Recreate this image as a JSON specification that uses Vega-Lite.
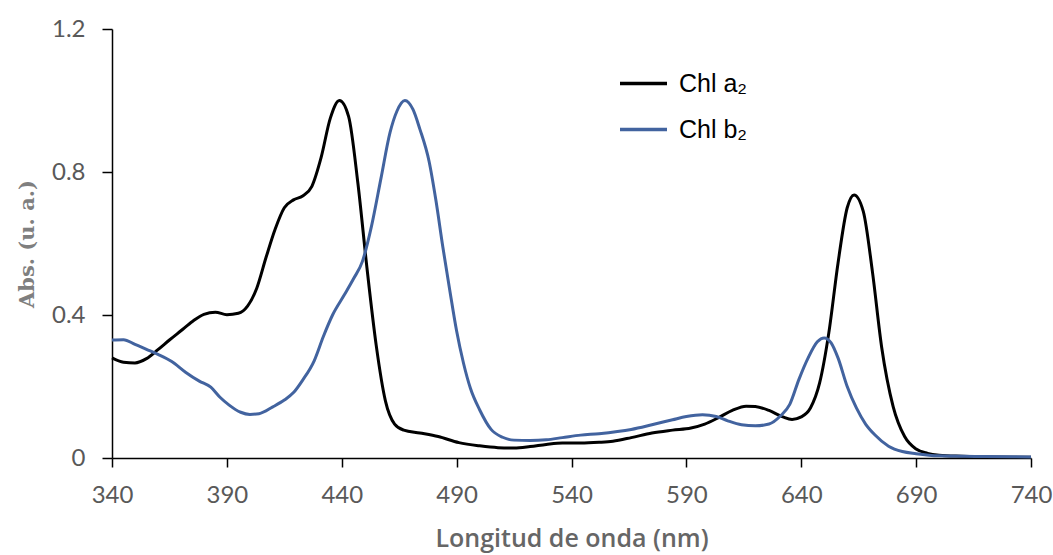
{
  "$schema": "https://vega.github.io/schema/vega-lite/v6.json",
  "autosize": "none",
  "width": 919,
  "height": 429,
  "padding": {"left": 112, "top": 29, "right": 22, "bottom": 97},
  "background": "white",
  "config": {"view": {"stroke": null}},
  "data": {"values": [
    {"wl": 340, "abs": 0.28, "serie": "Chl a₂"},
    {"wl": 345, "abs": 0.268, "serie": "Chl a₂"},
    {"wl": 350, "abs": 0.266, "serie": "Chl a₂"},
    {"wl": 355, "abs": 0.278, "serie": "Chl a₂"},
    {"wl": 360, "abs": 0.303, "serie": "Chl a₂"},
    {"wl": 365, "abs": 0.33, "serie": "Chl a₂"},
    {"wl": 370, "abs": 0.356, "serie": "Chl a₂"},
    {"wl": 375, "abs": 0.382, "serie": "Chl a₂"},
    {"wl": 380, "abs": 0.402, "serie": "Chl a₂"},
    {"wl": 385, "abs": 0.408, "serie": "Chl a₂"},
    {"wl": 390, "abs": 0.401, "serie": "Chl a₂"},
    {"wl": 395, "abs": 0.405, "serie": "Chl a₂"},
    {"wl": 399, "abs": 0.425, "serie": "Chl a₂"},
    {"wl": 403, "abs": 0.475, "serie": "Chl a₂"},
    {"wl": 407, "abs": 0.56, "serie": "Chl a₂"},
    {"wl": 411, "abs": 0.64, "serie": "Chl a₂"},
    {"wl": 415, "abs": 0.7, "serie": "Chl a₂"},
    {"wl": 419, "abs": 0.722, "serie": "Chl a₂"},
    {"wl": 423, "abs": 0.733, "serie": "Chl a₂"},
    {"wl": 427, "abs": 0.76, "serie": "Chl a₂"},
    {"wl": 431, "abs": 0.84, "serie": "Chl a₂"},
    {"wl": 435, "abs": 0.95, "serie": "Chl a₂"},
    {"wl": 439, "abs": 1.0, "serie": "Chl a₂"},
    {"wl": 443, "abs": 0.955, "serie": "Chl a₂"},
    {"wl": 447, "abs": 0.77, "serie": "Chl a₂"},
    {"wl": 451, "abs": 0.53, "serie": "Chl a₂"},
    {"wl": 455, "abs": 0.315, "serie": "Chl a₂"},
    {"wl": 459, "abs": 0.16, "serie": "Chl a₂"},
    {"wl": 463, "abs": 0.095, "serie": "Chl a₂"},
    {"wl": 467, "abs": 0.078, "serie": "Chl a₂"},
    {"wl": 474, "abs": 0.07, "serie": "Chl a₂"},
    {"wl": 482, "abs": 0.06, "serie": "Chl a₂"},
    {"wl": 491, "abs": 0.043, "serie": "Chl a₂"},
    {"wl": 500, "abs": 0.034, "serie": "Chl a₂"},
    {"wl": 508, "abs": 0.029, "serie": "Chl a₂"},
    {"wl": 515, "abs": 0.028, "serie": "Chl a₂"},
    {"wl": 522, "abs": 0.032, "serie": "Chl a₂"},
    {"wl": 529, "abs": 0.038, "serie": "Chl a₂"},
    {"wl": 536, "abs": 0.042, "serie": "Chl a₂"},
    {"wl": 544, "abs": 0.042, "serie": "Chl a₂"},
    {"wl": 552, "abs": 0.044, "serie": "Chl a₂"},
    {"wl": 558, "abs": 0.047, "serie": "Chl a₂"},
    {"wl": 566, "abs": 0.057, "serie": "Chl a₂"},
    {"wl": 575, "abs": 0.07, "serie": "Chl a₂"},
    {"wl": 584, "abs": 0.078, "serie": "Chl a₂"},
    {"wl": 592, "abs": 0.084, "serie": "Chl a₂"},
    {"wl": 598, "abs": 0.095, "serie": "Chl a₂"},
    {"wl": 604, "abs": 0.113, "serie": "Chl a₂"},
    {"wl": 610, "abs": 0.133, "serie": "Chl a₂"},
    {"wl": 616, "abs": 0.145, "serie": "Chl a₂"},
    {"wl": 620, "abs": 0.144, "serie": "Chl a₂"},
    {"wl": 626, "abs": 0.133, "serie": "Chl a₂"},
    {"wl": 632, "abs": 0.115, "serie": "Chl a₂"},
    {"wl": 636, "abs": 0.108, "serie": "Chl a₂"},
    {"wl": 640, "abs": 0.115, "serie": "Chl a₂"},
    {"wl": 644, "abs": 0.14, "serie": "Chl a₂"},
    {"wl": 648, "abs": 0.21, "serie": "Chl a₂"},
    {"wl": 652, "abs": 0.35, "serie": "Chl a₂"},
    {"wl": 656, "abs": 0.545, "serie": "Chl a₂"},
    {"wl": 660, "abs": 0.7, "serie": "Chl a₂"},
    {"wl": 663, "abs": 0.736, "serie": "Chl a₂"},
    {"wl": 667, "abs": 0.69, "serie": "Chl a₂"},
    {"wl": 671, "abs": 0.52, "serie": "Chl a₂"},
    {"wl": 675, "abs": 0.31, "serie": "Chl a₂"},
    {"wl": 680, "abs": 0.144, "serie": "Chl a₂"},
    {"wl": 685, "abs": 0.06, "serie": "Chl a₂"},
    {"wl": 690, "abs": 0.025, "serie": "Chl a₂"},
    {"wl": 695, "abs": 0.013, "serie": "Chl a₂"},
    {"wl": 700, "abs": 0.008, "serie": "Chl a₂"},
    {"wl": 710, "abs": 0.005, "serie": "Chl a₂"},
    {"wl": 720, "abs": 0.003, "serie": "Chl a₂"},
    {"wl": 740, "abs": 0.002, "serie": "Chl a₂"},
    {"wl": 340, "abs": 0.33, "serie": "Chl b₂"},
    {"wl": 345, "abs": 0.331, "serie": "Chl b₂"},
    {"wl": 350, "abs": 0.318, "serie": "Chl b₂"},
    {"wl": 355, "abs": 0.304, "serie": "Chl b₂"},
    {"wl": 360, "abs": 0.29, "serie": "Chl b₂"},
    {"wl": 366, "abs": 0.27, "serie": "Chl b₂"},
    {"wl": 372, "abs": 0.24, "serie": "Chl b₂"},
    {"wl": 378, "abs": 0.215, "serie": "Chl b₂"},
    {"wl": 383, "abs": 0.198, "serie": "Chl b₂"},
    {"wl": 387, "abs": 0.17, "serie": "Chl b₂"},
    {"wl": 391, "abs": 0.148, "serie": "Chl b₂"},
    {"wl": 396, "abs": 0.128, "serie": "Chl b₂"},
    {"wl": 400, "abs": 0.122, "serie": "Chl b₂"},
    {"wl": 404, "abs": 0.124, "serie": "Chl b₂"},
    {"wl": 410, "abs": 0.143, "serie": "Chl b₂"},
    {"wl": 415, "abs": 0.162, "serie": "Chl b₂"},
    {"wl": 419, "abs": 0.183, "serie": "Chl b₂"},
    {"wl": 423, "abs": 0.218, "serie": "Chl b₂"},
    {"wl": 428, "abs": 0.272, "serie": "Chl b₂"},
    {"wl": 432, "abs": 0.34, "serie": "Chl b₂"},
    {"wl": 436, "abs": 0.4, "serie": "Chl b₂"},
    {"wl": 441, "abs": 0.455, "serie": "Chl b₂"},
    {"wl": 445, "abs": 0.5, "serie": "Chl b₂"},
    {"wl": 449, "abs": 0.55, "serie": "Chl b₂"},
    {"wl": 453, "abs": 0.65, "serie": "Chl b₂"},
    {"wl": 457, "abs": 0.78, "serie": "Chl b₂"},
    {"wl": 461, "abs": 0.91, "serie": "Chl b₂"},
    {"wl": 464, "abs": 0.97, "serie": "Chl b₂"},
    {"wl": 467.5, "abs": 1.0, "serie": "Chl b₂"},
    {"wl": 471, "abs": 0.975, "serie": "Chl b₂"},
    {"wl": 474, "abs": 0.92, "serie": "Chl b₂"},
    {"wl": 478, "abs": 0.83, "serie": "Chl b₂"},
    {"wl": 481, "abs": 0.72, "serie": "Chl b₂"},
    {"wl": 484, "abs": 0.59, "serie": "Chl b₂"},
    {"wl": 487, "abs": 0.47, "serie": "Chl b₂"},
    {"wl": 490, "abs": 0.355, "serie": "Chl b₂"},
    {"wl": 493, "abs": 0.265, "serie": "Chl b₂"},
    {"wl": 496, "abs": 0.195, "serie": "Chl b₂"},
    {"wl": 500, "abs": 0.135, "serie": "Chl b₂"},
    {"wl": 505, "abs": 0.08, "serie": "Chl b₂"},
    {"wl": 510, "abs": 0.058, "serie": "Chl b₂"},
    {"wl": 515, "abs": 0.05, "serie": "Chl b₂"},
    {"wl": 522, "abs": 0.049, "serie": "Chl b₂"},
    {"wl": 529, "abs": 0.051, "serie": "Chl b₂"},
    {"wl": 536, "abs": 0.057, "serie": "Chl b₂"},
    {"wl": 544, "abs": 0.064, "serie": "Chl b₂"},
    {"wl": 552, "abs": 0.068, "serie": "Chl b₂"},
    {"wl": 560, "abs": 0.074, "serie": "Chl b₂"},
    {"wl": 566, "abs": 0.08, "serie": "Chl b₂"},
    {"wl": 575, "abs": 0.093, "serie": "Chl b₂"},
    {"wl": 584, "abs": 0.107, "serie": "Chl b₂"},
    {"wl": 590, "abs": 0.116, "serie": "Chl b₂"},
    {"wl": 597, "abs": 0.121, "serie": "Chl b₂"},
    {"wl": 603, "abs": 0.116, "serie": "Chl b₂"},
    {"wl": 608, "abs": 0.104, "serie": "Chl b₂"},
    {"wl": 614, "abs": 0.093, "serie": "Chl b₂"},
    {"wl": 620, "abs": 0.09, "serie": "Chl b₂"},
    {"wl": 626, "abs": 0.095, "serie": "Chl b₂"},
    {"wl": 631, "abs": 0.118, "serie": "Chl b₂"},
    {"wl": 635, "abs": 0.15, "serie": "Chl b₂"},
    {"wl": 639, "abs": 0.22, "serie": "Chl b₂"},
    {"wl": 643, "abs": 0.28, "serie": "Chl b₂"},
    {"wl": 647, "abs": 0.325, "serie": "Chl b₂"},
    {"wl": 650, "abs": 0.336, "serie": "Chl b₂"},
    {"wl": 653, "abs": 0.322, "serie": "Chl b₂"},
    {"wl": 656, "abs": 0.28, "serie": "Chl b₂"},
    {"wl": 660, "abs": 0.2, "serie": "Chl b₂"},
    {"wl": 664, "abs": 0.14, "serie": "Chl b₂"},
    {"wl": 668, "abs": 0.095, "serie": "Chl b₂"},
    {"wl": 672, "abs": 0.065, "serie": "Chl b₂"},
    {"wl": 678, "abs": 0.033, "serie": "Chl b₂"},
    {"wl": 684, "abs": 0.018, "serie": "Chl b₂"},
    {"wl": 690, "abs": 0.012, "serie": "Chl b₂"},
    {"wl": 700, "abs": 0.006, "serie": "Chl b₂"},
    {"wl": 720, "abs": 0.004, "serie": "Chl b₂"},
    {"wl": 740, "abs": 0.003, "serie": "Chl b₂"}
  ]},
  "mark": {"type": "line", "strokeWidth": 3, "interpolate": "monotone"},
  "encoding": {
    "x": {
      "field": "wl", "type": "quantitative",
      "scale": {"domain": [340, 740], "nice": false, "zero": false},
      "axis": {
        "values": [340, 390, 440, 490, 540, 590, 640, 690, 740],
        "grid": false,
        "title": "Longitud de onda (nm)",
        "titleFont": "Open Sans", "titleFontSize": 25, "titleFontWeight": 600, "titleColor": "#666666",
        "titlePadding": 19,
        "labelFont": "Lato", "labelFontSize": 24, "labelColor": "#595959",
        "labelPadding": 16, "labelFlush": false,
        "domainColor": "#000000", "domainWidth": 1.5,
        "tickColor": "#000000", "tickWidth": 1.5, "tickSize": 9
      }
    },
    "y": {
      "field": "abs", "type": "quantitative",
      "scale": {"domain": [0, 1.2], "nice": false},
      "axis": {
        "values": [0, 0.4, 0.8, 1.2],
        "labelExpr": "datum.value == 0 ? '0' : format(datum.value, '.1f')",
        "grid": false,
        "title": "Abs.  (u. a.)",
        "titleFont": "DejaVu Serif", "titleFontSize": 21, "titleFontWeight": "bold", "titleColor": "#7f7f7f",
        "titlePadding": 14,
        "labelFont": "Lato", "labelFontSize": 24, "labelColor": "#595959",
        "labelPadding": 17, "labelFlush": false,
        "domainColor": "#000000", "domainWidth": 1.5,
        "tickColor": "#000000", "tickWidth": 1.5, "tickSize": 10
      }
    },
    "color": {
      "field": "serie", "type": "nominal",
      "scale": {"domain": ["Chl a₂", "Chl b₂"], "range": ["#000000", "#42639f"]},
      "legend": {
        "title": null,
        "orient": "none",
        "legendX": 506,
        "legendY": 29,
        "padding": 0,
        "symbolType": "stroke",
        "symbolSize": 2209,
        "symbolStrokeWidth": 3.5,
        "rowPadding": 7,
        "labelOffset": 10,
        "labelFont": "Liberation Sans",
        "labelFontSize": 25,
        "labelColor": "#000000"
      }
    }
  }
}
